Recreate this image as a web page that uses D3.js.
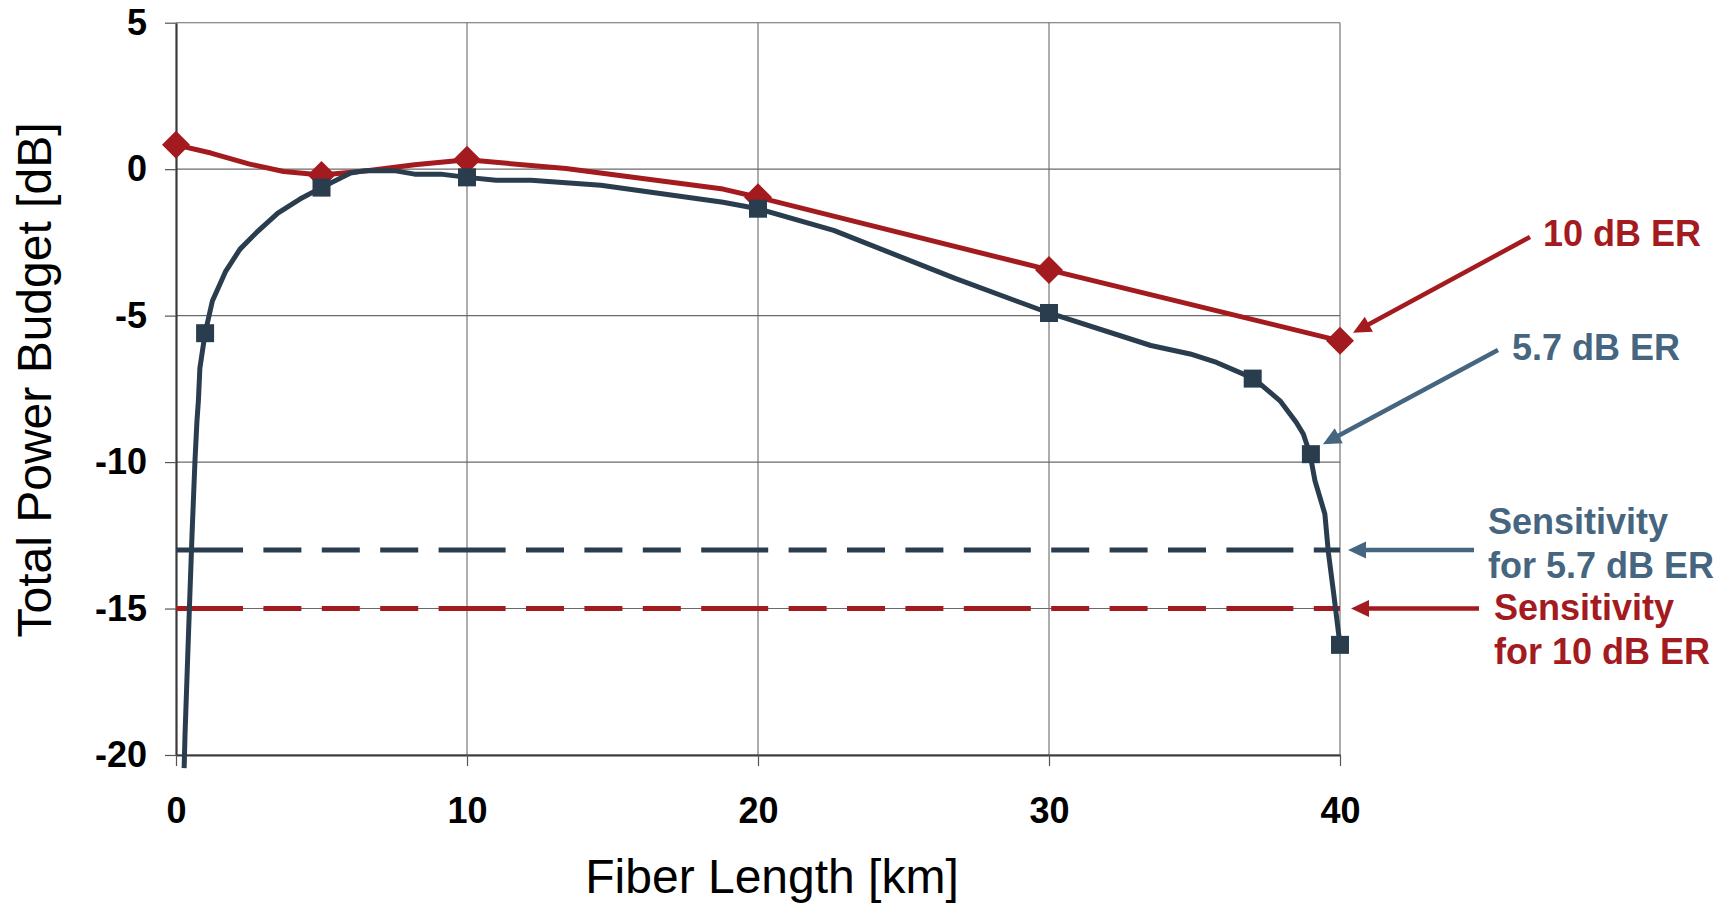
<!DOCTYPE html>
<html>
<head>
<meta charset="utf-8">
<script src="https://cdn.jsdelivr.net/npm/d3@7"></script>
<style>
  html, body { margin: 0; padding: 0; background: #fff; }
  svg { display: block; font-family: "Liberation Sans", Arial, sans-serif; }
</style>
</head>
<body>
<svg id="chart" width="1729" height="904"></svg>
<script>
// Fiber length axis ticks [km] and power budget ticks [dB]
const xTicks = [0, 10, 20, 30, 40];
const yTicks = [5, 0, -5, -10, -15, -20];

// 5.7 dB extinction ratio: computed curve and marked points
const curve57 = [
  [0.28, -20.45], [0.31, -19.3], [0.39, -17.0], [0.46, -15.0], [0.55, -12.5],
  [0.65, -10.0], [0.72, -8.6], [0.77, -7.9], [0.82, -6.8], [1.0, -5.6],
  [1.25, -4.5], [1.7, -3.5], [2.2, -2.73], [2.77, -2.16], [3.5, -1.5],
  [4.26, -1.02], [5.0, -0.63], [6.0, -0.13], [6.5, -0.05], [7.5, -0.05],
  [8.2, -0.17], [9.1, -0.17], [10.0, -0.28], [11.0, -0.38], [12.2, -0.38],
  [14.6, -0.55], [18.8, -1.13], [20.0, -1.35], [22.6, -2.09], [26.75, -3.72],
  [28.9, -4.51], [30.0, -4.91], [33.5, -6.02], [34.85, -6.31], [35.76, -6.6],
  [37.04, -7.15], [37.94, -7.91], [38.5, -8.65], [38.74, -9.04], [38.97, -9.73],
  [39.14, -10.64], [39.48, -11.77], [39.6, -13.08], [39.77, -14.39], [40.0, -16.24]
];
const marks57 = [[1, -5.6], [5, -0.63], [10, -0.28], [20, -1.35], [30, -4.91], [37, -7.15], [39, -9.73], [40, -16.24]];

// 10 dB extinction ratio: computed curve and marked points
const curve10 = [
  [0, 0.83], [1.2, 0.55], [2.5, 0.18], [3.7, -0.08], [5, -0.2], [6.5, -0.06],
  [8.2, 0.15], [10, 0.32], [13.4, 0.02], [18.8, -0.68], [20, -0.96],
  [30, -3.44], [40, -5.86]
];
const marks10 = [[0, 0.83], [5, -0.2], [10, 0.32], [20, -0.96], [30, -3.44], [40, -5.86]];

// Receiver sensitivity levels [dB]
const sens57 = -13;
const sens10 = -15;

const RED = "#A31A1F";
const SLATE = "#2A3D4F";
const STEEL = "#46657F";

const svg = d3.select("#chart");
const x = d3.scaleLinear().domain([0, 40]).range([176, 1340]);
const y = d3.scaleLinear().domain([-20, 5]).range([755, 22.7]);

// grid
const grid = svg.append("g").attr("stroke", "#6a6a6a").attr("stroke-width", 1.1);
grid.selectAll("line.h").data(yTicks).join("line")
  .attr("x1", x(0)).attr("x2", x(40))
  .attr("y1", d => y(d)).attr("y2", d => y(d));
grid.selectAll("line.v").data(xTicks.filter(d => d > 0)).join("line")
  .attr("y1", y(5)).attr("y2", y(-20))
  .attr("x1", d => x(d)).attr("x2", d => x(d));

// axes (plain hyphen for negative tick labels)
const fmt = d => String(d);
const yAxis = svg.append("g").attr("transform", `translate(${x(0)},0)`)
  .call(d3.axisLeft(y).tickValues(yTicks).tickFormat(fmt).tickSize(11).tickSizeOuter(0).tickPadding(18));
const xAxis = svg.append("g").attr("transform", `translate(0,${y(-20)})`)
  .call(d3.axisBottom(x).tickValues(xTicks).tickFormat(fmt).tickSize(11).tickSizeOuter(0).tickPadding(31));
[yAxis, xAxis].forEach(g => {
  g.select(".domain").attr("stroke", "#3a3a3a").attr("stroke-width", 2.2);
  g.selectAll(".tick line").attr("stroke", "#555").attr("stroke-width", 1.2);
  g.selectAll(".tick text").attr("font-size", 36).attr("font-weight", "bold")
    .attr("fill", "#000").attr("font-family", "Liberation Sans, Arial, sans-serif");
});

// axis titles
svg.append("text")
  .attr("x", 772).attr("y", 893).attr("text-anchor", "middle")
  .attr("font-size", 48).attr("fill", "#000")
  .text("Fiber Length [km]");
svg.append("text")
  .attr("transform", "translate(51,380) rotate(-90)").attr("text-anchor", "middle")
  .attr("font-size", 48).attr("fill", "#000")
  .text("Total Power Budget [dB]");

// sensitivity thresholds
const dash = "67,20.4,38,20.4,38,20.4,38,20.4";
[[sens57, SLATE], [sens10, RED]].forEach(([v, c]) => {
  svg.append("line")
    .attr("x1", x(0)).attr("x2", x(40)).attr("y1", y(v)).attr("y2", y(v))
    .attr("stroke", c).attr("stroke-width", 5).attr("stroke-dasharray", dash);
});

// series lines
const line = d3.line().x(d => x(d[0])).y(d => y(d[1]));
svg.append("path").datum(curve10).attr("d", line)
  .attr("fill", "none").attr("stroke", RED).attr("stroke-width", 5).attr("stroke-linejoin", "round");
svg.append("path").datum(curve57).attr("d", line)
  .attr("fill", "none").attr("stroke", SLATE).attr("stroke-width", 5).attr("stroke-linejoin", "round");

// markers
svg.append("g").selectAll("path").data(marks10).join("path")
  .attr("transform", d => `translate(${x(d[0])},${y(d[1])})`)
  .attr("d", "M0,-14L14,0L0,14L-14,0Z").attr("fill", RED);
svg.append("g").selectAll("rect").data(marks57).join("rect")
  .attr("x", d => x(d[0]) - 9).attr("y", d => y(d[1]) - 9)
  .attr("width", 18).attr("height", 18).attr("fill", SLATE);

// annotation arrows
function arrow(x1, y1, x2, y2, color) {
  const ang = Math.atan2(y2 - y1, x2 - x1);
  const len = 18, hw = 8.5;
  const bx = x2 - len * Math.cos(ang), by = y2 - len * Math.sin(ang);
  svg.append("line").attr("x1", x1).attr("y1", y1).attr("x2", bx + 2 * Math.cos(ang)).attr("y2", by + 2 * Math.sin(ang))
    .attr("stroke", color).attr("stroke-width", 4.5);
  const px = -Math.sin(ang), py = Math.cos(ang);
  svg.append("path")
    .attr("d", `M${x2},${y2}L${bx + hw * px},${by + hw * py}L${bx - hw * px},${by - hw * py}Z`)
    .attr("fill", color);
}
const last10 = marks10[marks10.length - 1];
const m39 = marks57[marks57.length - 2];
arrow(1530, 237, x(last10[0]) + 13, y(last10[1]) - 8, RED);
arrow(1498, 350, x(m39[0]) + 12, y(m39[1]) - 10, STEEL);
arrow(1474, y(sens57), x(40) + 8, y(sens57), STEEL);
arrow(1479, y(sens10), x(40) + 11, y(sens10), RED);

// annotation labels
const labels = [
  { t: "10 dB ER", x: 1543, y: 246, c: RED },
  { t: "5.7 dB ER", x: 1512, y: 360, c: STEEL },
  { t: "Sensitivity", x: 1488, y: 534, c: STEEL },
  { t: "for 5.7 dB ER", x: 1488, y: 578, c: STEEL },
  { t: "Sensitivity", x: 1494, y: 620, c: RED },
  { t: "for 10 dB ER", x: 1494, y: 664, c: RED }
];
svg.append("g").selectAll("text").data(labels).join("text")
  .attr("x", d => d.x).attr("y", d => d.y).attr("fill", d => d.c)
  .attr("font-size", 36).attr("font-weight", "bold").text(d => d.t);
</script>
</body>
</html>
